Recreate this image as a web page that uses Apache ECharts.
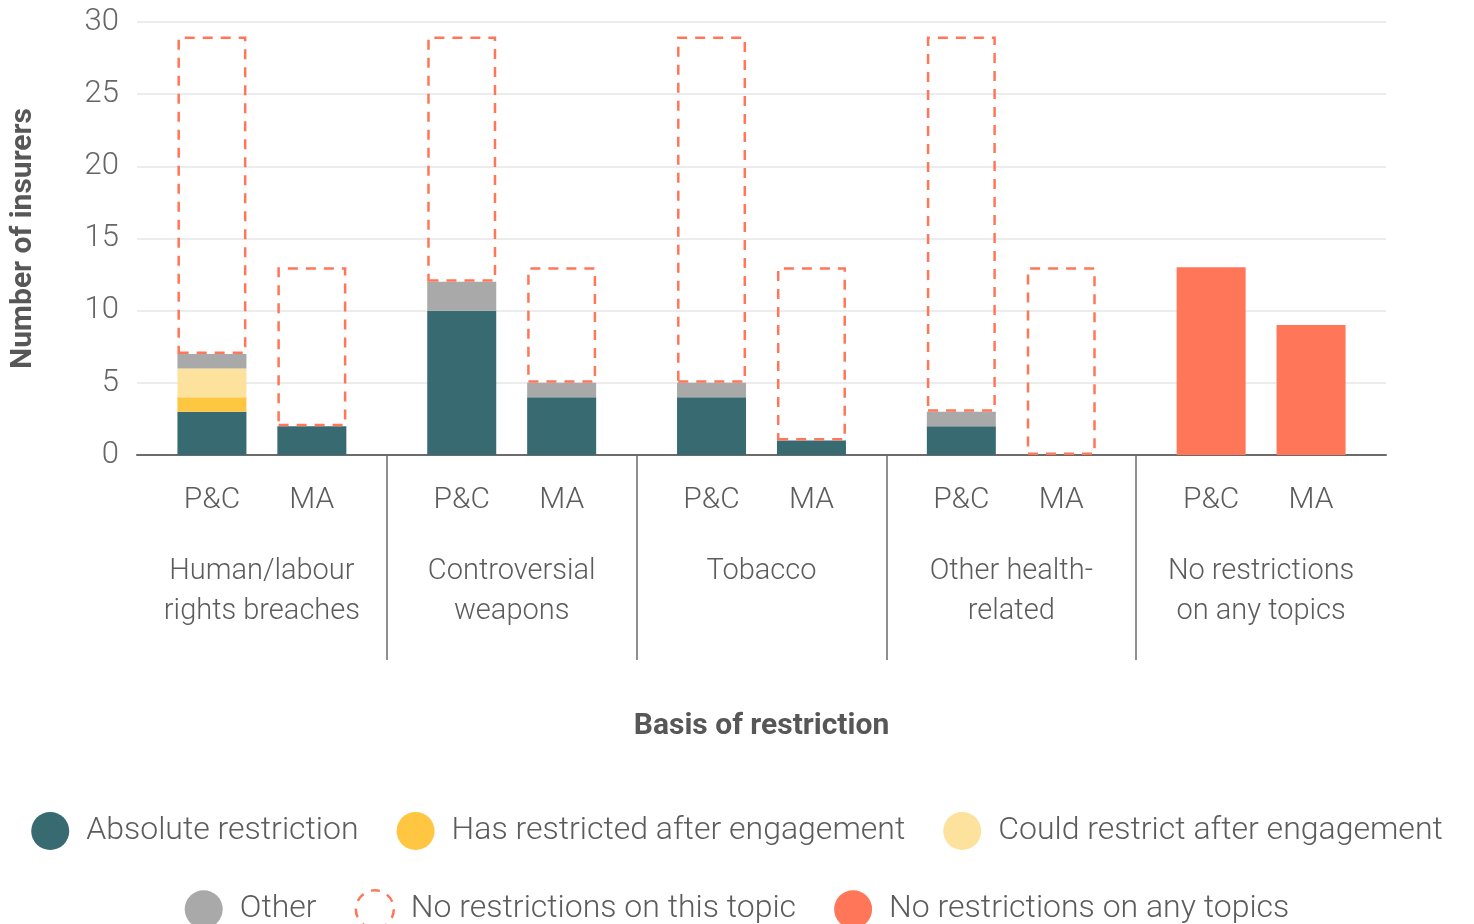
<!DOCTYPE html>
<html>
<head>
<meta charset="utf-8">
<script src="https://cdn.jsdelivr.net/npm/echarts@6/dist/echarts.min.js"></script>
<style>
  html, body { margin: 0; padding: 0; background: #ffffff; }
  #chart { width: 1474px; height: 924px; }
</style>
</head>
<body>
<div id="chart"></div>
<script>
// Restriction bases (groups) and insurer types (bars within each group)
const groups = ['Human/labour\nrights breaches', 'Controversial\nweapons', 'Tobacco', 'Other health-\nrelated', 'No restrictions\non any topics'];
const insurerTypes = ['P&C', 'MA'];

// Values per bar, ordered group by group: P&C, MA, P&C, MA, ...
const absoluteRestriction = [3, 2, 10, 4, 4, 1, 2, 0, 0, 0];
const hasRestricted       = [1, 0, 0, 0, 0, 0, 0, 0, 0, 0];
const couldRestrict       = [2, 0, 0, 0, 0, 0, 0, 0, 0, 0];
const otherBasis          = [1, 0, 2, 1, 1, 0, 1, 0, 0, 0];
const noRestrictionTopic  = [22, 11, 17, 8, 24, 12, 26, 13, 0, 0];
const noRestrictionAny    = [0, 0, 0, 0, 0, 0, 0, 0, 13, 9];

const yTicks = [0, 5, 10, 15, 20, 25, 30];

// Each group occupies 5 slots on the category axis; bars sit in slots 1 and 3.
const SLOTS_PER_GROUP = 5;
const slotCount = groups.length * SLOTS_PER_GROUP;
const slotOfBar = b => Math.floor(b / 2) * SLOTS_PER_GROUP + 1 + 2 * (b % 2);

const slotLabels = new Array(slotCount).fill('');
for (let b = 0; b < groups.length * 2; b++) slotLabels[slotOfBar(b)] = insurerTypes[b % 2];

function toSlots(values) {
  const out = new Array(slotCount).fill(null);
  values.forEach((v, b) => { out[slotOfBar(b)] = v === 0 ? null : v; });
  return out;
}

const FONT = 'Roboto, "Liberation Sans", sans-serif';
const TEXT = '#5c5c5c';
const BAR_W = 69;

const colors = {
  absolute: '#386a72',
  hasRestricted: '#fec641',
  couldRestrict: '#fde29e',
  other: '#a9a9a9',
  none: '#ff7659'
};

function solidSeries(name, values, color) {
  return {
    name, type: 'bar', stack: 'total', xAxisIndex: 0, barWidth: BAR_W,
    itemStyle: { color },
    data: toSlots(values)
  };
}

const dashedStyle = { color: 'rgba(0,0,0,0)', borderColor: colors.none, borderWidth: 2.5, borderType: [10, 8] };

const legendText = { fontFamily: FONT, fontSize: 32, fontWeight: 300, color: TEXT, padding: [0, 0, 0, 12] };

const option = {
  backgroundColor: '#ffffff',
  animation: false,
  textStyle: { fontFamily: FONT },
  grid: { left: 135, right: 88, top: 22, bottom: 469, containLabel: false },
  legend: [
    {
      top: 807, left: 'center', itemWidth: 38, itemHeight: 38, itemGap: 38, icon: 'circle',
      textStyle: legendText,
      data: ['Absolute restriction', 'Has restricted after engagement', 'Could restrict after engagement']
    },
    {
      top: 884, left: 'center', itemWidth: 38, itemHeight: 38, itemGap: 38, icon: 'circle',
      textStyle: legendText,
      data: [
        'Other',
        { name: 'No restrictions on this topic', itemStyle: { color: 'rgba(0,0,0,0)', borderColor: colors.none, borderWidth: 2.5, borderType: [9, 8] } },
        'No restrictions on any topics'
      ]
    }
  ],
  xAxis: [
    {
      type: 'category', data: slotLabels, boundaryGap: true,
      axisLine: { lineStyle: { color: '#6b6b6b', width: 2 } },
      axisTick: { show: false },
      axisLabel: { interval: 0, margin: 30, fontSize: 30, fontWeight: 300, color: TEXT, fontFamily: FONT },
      name: 'Basis of restriction', nameLocation: 'middle', nameGap: 256,
      nameTextStyle: { fontSize: 30, fontWeight: 'bold', color: '#575757', fontFamily: FONT }
    },
    {
      type: 'category', data: groups, boundaryGap: true, position: 'bottom',
      axisLine: { show: false }, axisTick: { show: false },
      axisLabel: { interval: 0, margin: 97, fontSize: 29, fontWeight: 300, lineHeight: 40, color: TEXT, fontFamily: FONT }
    },
    {
      // group separators
      type: 'category', data: ['s0', 's1', 's2', 's3', 's4', 's5'], boundaryGap: false, position: 'bottom',
      axisLine: { show: false }, axisLabel: { show: false },
      axisTick: { show: true, length: 205, interval: (i) => i > 0 && i < groups.length, lineStyle: { color: '#6b6b6b', width: 1.5 } }
    }
  ],
  yAxis: {
    type: 'value', min: yTicks[0], max: yTicks[yTicks.length - 1], interval: 5,
    axisLine: { show: false }, axisTick: { show: false },
    axisLabel: { margin: 18, fontSize: 31, fontWeight: 300, color: '#666666', fontFamily: FONT },
    splitLine: { lineStyle: { color: '#e6e6e6', width: 1.5 } },
    name: 'Number of insurers', nameLocation: 'middle', nameGap: 99,
    nameTextStyle: { fontSize: 30, fontWeight: 'bold', color: '#575757', fontFamily: FONT }
  },
  series: [
    solidSeries('Absolute restriction', absoluteRestriction, colors.absolute),
    solidSeries('Has restricted after engagement', hasRestricted, colors.hasRestricted),
    solidSeries('Could restrict after engagement', couldRestrict, colors.couldRestrict),
    solidSeries('Other', otherBasis, colors.other),
    {
      name: 'No restrictions on this topic', type: 'bar', stack: 'total', xAxisIndex: 0, barWidth: BAR_W - 4,
      itemStyle: dashedStyle,
      data: toSlots(noRestrictionTopic)
    },
    solidSeries('No restrictions on any topics', noRestrictionAny, colors.none)
  ]
};

echarts.init(document.getElementById('chart'), null, { renderer: 'canvas' }).setOption(option);
</script>
</body>
</html>
